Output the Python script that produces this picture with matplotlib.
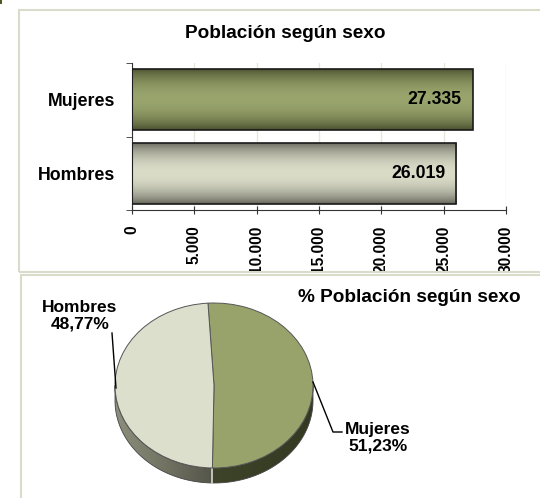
import numpy as np
import matplotlib
matplotlib.use("Agg")
import matplotlib.pyplot as plt
from matplotlib.patches import Rectangle, Polygon
from matplotlib.colors import to_rgb
from matplotlib.transforms import Bbox, TransformedBbox

plt.rcParams['font.family'] = ['Liberation Sans', 'DejaVu Sans']
plt.rcParams['font.weight'] = 'bold'

# data
categories = ["Hombres", "Mujeres"]
poblacion = [26019, 27335]
bar_labels = ["26.019", "27.335"]
x_ticks = [0, 5000, 10000, 15000, 20000, 25000, 30000]
x_tick_labels = ["0", "5.000", "10.000", "15.000", "20.000", "25.000", "30.000"]

pie_labels = ["Mujeres", "Hombres"]
pie_pct = [51.23, 48.77]
pie_pct_labels = ["51,23%", "48,77%"]

W, H = 540, 498
fig = plt.figure(figsize=(W / 100, H / 100), dpi=100)
fig.patch.set_facecolor("white")

def fx(px):
    return px / W

def fy(py):
    return 1 - py / H

# panel frames
border = "#d9dccb"
fig.add_artist(Rectangle((fx(19), fy(272)), fx(530), 262 / H, transform=fig.transFigure,
                         fill=False, edgecolor=border, lw=1.5))
fig.add_artist(Rectangle((fx(21), fy(500)), fx(530), 225 / H, transform=fig.transFigure,
                         fill=False, edgecolor=border, lw=1.5))
fig.add_artist(Rectangle((0, fy(4)), fx(2), 4 / H, transform=fig.transFigure,
                         facecolor="#4a5a20", edgecolor="none"))

# ---- bar chart ----
ax = fig.add_axes([fx(132), fy(210), fx(506 - 132), (210 - 63) / H])
bar_grad = {
    "Hombres": ("#5c5c52", "#dadcc8"),
    "Mujeres": ("#434829", "#99a56d"),
}
bh = 0.83
bars = ax.barh(range(len(categories)), poblacion, height=bh, color="none",
               edgecolor="#1a1a1a", linewidth=1.2, zorder=3)
t = np.linspace(0, 1, 200)
prof = np.sin(np.pi * t) ** 0.7
for i, (cat, b) in enumerate(zip(categories, bars)):
    dark, light = np.array(to_rgb(bar_grad[cat][0])), np.array(to_rgb(bar_grad[cat][1]))
    img = dark[None, :] + (light - dark)[None, :] * prof[:, None]
    img = img[:, None, :]
    im = ax.imshow(img, extent=(0, poblacion[i], i - bh / 2, i + bh / 2),
                   aspect="auto", zorder=2, interpolation="bilinear")
    im.set_clip_path(b)
    ax.text(poblacion[i] - 880, i, bar_labels[i], ha="right", va="center",
            fontsize=12.7, fontweight="bold", zorder=4)

ax.set_xlim(0, 30000)
ax.set_ylim(-0.5, 1.5)
ax.set_xticks(x_ticks)
ax.set_xticklabels(x_tick_labels, rotation=90, fontsize=11.2, fontweight="bold")
ax.set_yticks(range(len(categories)))
ax.set_yticklabels(categories, fontsize=12.8, fontweight="bold")
ax.tick_params(axis="y", length=0, pad=12)
ax.set_yticks([-0.5, 0.5, 1.5], minor=True)
ax.tick_params(axis="y", which="minor", length=4, direction="out", color="#333333")
ax.tick_params(axis="x", length=6, direction="inout", color="#333333", pad=8)
ax.grid(axis="x", color="#e6e8d8", lw=1, zorder=0)
for s in ["top", "right"]:
    ax.spines[s].set_visible(False)
for s in ["left", "bottom"]:
    ax.spines[s].set_color("#333333")

# tick labels are cut at the bottom of the top panel
clip = TransformedBbox(Bbox([[0, fy(271)], [1, 1]]), fig.transFigure)
for lab in ax.get_xticklabels():
    lab.set_clip_on(True)
    lab.set_clip_box(clip)

fig.text(fx(285), fy(33), "Población según sexo", ha="center", va="center",
         fontsize=13.7, fontweight="bold")

# ---- 3D-like pie ----
pax = fig.add_axes([fx(20), fy(498), fx(520), 223 / H])
rx_px, ry_px, cx, cy = 99, 82.5, 214, 385.5
xmin = -(cx - 20) / rx_px
xmax = xmin + 520 / rx_px
ymax = (cy - 275) / ry_px
ymin = ymax - 223 / ry_px
depth = 15 / ry_px

pie_colors = ["#97a36b", "#dcdfcc"]
start = 93.5
wedges, _ = pax.pie(pie_pct, colors=pie_colors, startangle=start, counterclock=False,
                    wedgeprops=dict(edgecolor="#555555", linewidth=0.7), radius=1)
for w in wedges:
    w.set_zorder(3)
pax.set_aspect("auto")
pax.axis("off")

# side walls for the front (lower) half
side_colors = [("#3e4429", "#343a22"), ("#8e907c", "#55564a")]
ang = start
for i, v in enumerate(pie_pct):
    a0 = ang - v / 100 * 360
    ang = a0
    lo, hi = a0 % 360, (a0 % 360) + v / 100 * 360
    s0, s1 = max(lo, 180), min(hi, 360)
    if s1 <= s0:
        s0, s1 = max(lo - 360, 180), min(hi - 360, 360)
        if s1 <= s0:
            continue
    th = np.radians(np.linspace(s0, s1, 80))
    xs = np.cos(th)
    top = np.sin(th)
    pts = np.concatenate([np.column_stack([xs, top]),
                          np.column_stack([xs[::-1], top[::-1] - depth])])
    poly = Polygon(pts, closed=True, facecolor="none", edgecolor="#444444", lw=0.6, zorder=2)
    pax.add_patch(poly)
    c0, c1 = np.array(to_rgb(side_colors[i][0])), np.array(to_rgb(side_colors[i][1]))
    g = np.linspace(0, 1, 100)
    img = (c0[None, :] + (c1 - c0)[None, :] * g[:, None])[None, :, :]
    im = pax.imshow(img, extent=(xs.min(), xs.max(), -1 - depth, 0), aspect="auto",
                    zorder=1, interpolation="bilinear")
    im.set_clip_path(poly)
pax.set_xlim(xmin, xmax)
pax.set_ylim(ymin, ymax)

# split line on the side
split = np.radians(start - pie_pct[0] / 100 * 360)
pax.plot([np.cos(split)] * 2, [np.sin(split), np.sin(split) - depth], color="#d8d8d0",
         lw=1.2, zorder=2.5)

# labels with leader lines
pax.text((80 - cx) / rx_px, -(316 - cy) / ry_px, pie_labels[1] + "\n" + pie_pct_labels[1],
         ha="center", va="center", fontsize=12.5, fontweight="bold", linespacing=1.15)
pax.plot([(112 - cx) / rx_px, (116 - cx) / rx_px],
         [-(333 - cy) / ry_px, -(388 - cy) / ry_px], color="black", lw=1, zorder=4)
pax.text((378 - cx) / rx_px, -(438 - cy) / ry_px, pie_labels[0] + "\n" + pie_pct_labels[0],
         ha="center", va="center", fontsize=12.5, fontweight="bold", linespacing=1.15)
pax.plot([(313 - cx) / rx_px, (333 - cx) / rx_px, (342 - cx) / rx_px],
         [-(382 - cy) / ry_px, -(432 - cy) / ry_px, -(432 - cy) / ry_px],
         color="black", lw=1, zorder=4)

fig.text(fx(521), fy(297), "% Población según sexo", ha="right", va="center",
         fontsize=13.7, fontweight="bold")

fig.savefig("out.png", dpi=100)
